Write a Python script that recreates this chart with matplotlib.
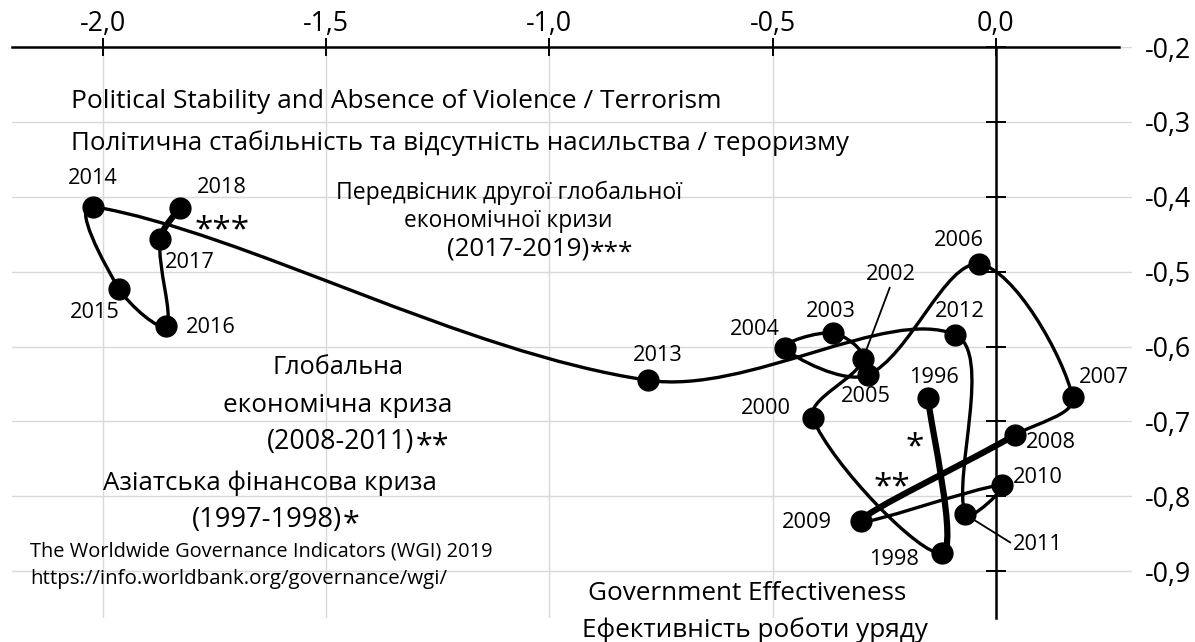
import numpy as np
import matplotlib.pyplot as plt
from matplotlib.path import Path
from matplotlib.patches import PathPatch

plt.rcParams['font.family'] = ['Open Sans', 'DejaVu Sans']

# WGI 2019: political stability (x) vs government effectiveness (y)
years = [1996, 1998, 2000, 2002, 2003, 2004, 2005, 2006, 2007, 2008, 2009,
         2010, 2011, 2012, 2013, 2014, 2015, 2016, 2017, 2018]
stability = [-0.152, -0.121, -0.410, -0.298, -0.365, -0.473, -0.287, -0.038, 0.172, 0.043, -0.302,
             0.013, -0.069, -0.092, -0.780, -2.022, -1.964, -1.859, -1.872, -1.828]
effectiveness = [-0.669, -0.876, -0.696, -0.617, -0.582, -0.602, -0.638, -0.490, -0.668, -0.718, -0.833,
                 -0.785, -0.824, -0.584, -0.645, -0.413, -0.523, -0.572, -0.457, -0.415]

# label offsets from the point, pixels (y up)
label_off = {1996: (6, 21), 1998: (-48, -6), 2000: (-47, 10), 2002: (28, 85), 2003: (-2, 22),
             2004: (-30, 19), 2005: (-2, -22), 2006: (-20, 24), 2007: (31, 20), 2008: (36, -8),
             2009: (-54, -1), 2010: (36, 8), 2011: (73, -30), 2012: (5, 23), 2013: (10, 25),
             2014: (0, 28), 2015: (-24, -24), 2016: (45, -2), 2017: (30, -23), 2018: (42, 21)}
leader = {2002: (0.5, 0.0), 2011: (0.0, 0.5)}

crisis_start = [1996, 2008, 2017]          # thick segment starts here
stars = {1996: ('*', (-13, -50)), 2009: ('**', (31, 33)), 2018: ('***', (42, -23))}

xticks = [-2.0, -1.5, -1.0, -0.5, 0.0]
yticks = [-0.9, -0.8, -0.7, -0.6, -0.5, -0.4, -0.3, -0.2]

W, H = 1195, 642
XPX, YPX = 446.5, 749.0   # pixels per unit on each axis


def fxy(px, py):
    return px / W, 1 - py / H


def comma(v):
    return f'{v:.1f}'.replace('.', ',')


def bezier(xs, ys):
    '''smoothed line, control points weighted by chord length'''
    p = np.column_stack([xs, ys])
    n = len(p)

    def d(a, b):
        return np.hypot((a[0] - b[0]) * XPX, (a[1] - b[1]) * YPX)

    segs = []
    for i in range(n - 1):
        p0, p1, p2, p3 = p[max(i - 1, 0)], p[i], p[i + 1], p[min(i + 2, n - 1)]
        d01, d12, d23 = d(p0, p1), d(p1, p2), d(p2, p3)
        k1 = d12 / (3 * (d01 + d12)) if d01 > 0 else 1 / 6
        k2 = d12 / (3 * (d12 + d23)) if d23 > 0 else 1 / 6
        segs.append([p1, p1 + (p2 - p0) * k1, p2 - (p3 - p1) * k2, p2])
    return segs


fig = plt.figure(figsize=(W / 100, H / 100), dpi=100)
rend = fig.canvas.get_renderer()


def fit(t, width):
    w = t.get_window_extent(rend).width
    t.set_fontsize(t.get_fontsize() * width / w)
    return t


def fitted_size(s, width, fs=15):
    t = fig.text(0, 0, s, fontsize=fs)
    fs = fs * width / t.get_window_extent(rend).width
    t.remove()
    return fs


ax = fig.add_axes([11.5 / W, 1 - 618 / H, (1132 - 11.5) / W, (618 - 47) / H])
ax.set_xlim(-2.205, 0.305)
ax.set_ylim(-0.9625, -0.2)

for s in ['bottom', 'right']:
    ax.spines[s].set_visible(False)
ax.spines['top'].set_bounds(-2.205, 0.275)
ax.spines['top'].set_linewidth(1.8)
ax.spines['left'].set_position(('data', 0))
ax.spines['left'].set_linewidth(1.8)

tick_fs = fitted_size('-0,3', 46)
ax.xaxis.set_ticks_position('top')
ax.set_xticks(xticks)
ax.set_xticklabels([comma(v) for v in xticks])
ax.set_yticks(yticks)
ax.set_yticklabels([comma(v) for v in yticks])
ax.tick_params(axis='x', direction='inout', length=13, width=1.4, labelsize=tick_fs, pad=0)
ax.tick_params(axis='y', left=True, right=False, labelleft=False, labelright=True,
               direction='inout', length=14, width=1.4, labelsize=tick_fs, pad=2)
ax.grid(True, color='#d9d9d9', lw=1.0)
ax.set_axisbelow(True)

segs = bezier(stability, effectiveness)
verts, codes = [], []
for k, sg in enumerate(segs):
    if k == 0:
        verts.append(sg[0]); codes.append(Path.MOVETO)
    verts += sg[1:]; codes += [Path.CURVE4] * 3
ax.add_patch(PathPatch(Path(verts, codes), fill=False, lw=2.4, ec='k', zorder=3, capstyle='round'))
for y0 in crisis_start:
    sg = segs[years.index(y0)]
    ax.add_patch(PathPatch(Path(sg, [Path.MOVETO] + [Path.CURVE4] * 3), fill=False, lw=4.5,
                           ec='k', zorder=3, capstyle='round'))

ax.plot(stability, effectiveness, 'o', color='k', ms=15, zorder=4)

year_fs = fitted_size('2014', 50)
for yr, xv, yv in zip(years, stability, effectiveness):
    dx, dy = label_off[yr]
    kw = {}
    if yr in leader:
        kw['arrowprops'] = dict(arrowstyle='-', lw=1.3, color='k', shrinkA=0, shrinkB=0,
                                relpos=leader[yr])
    ax.annotate(str(yr), (xv, yv), xytext=(dx, dy), textcoords='offset pixels',
                ha='center', va='center', fontsize=year_fs, zorder=5, **kw)
    if yr in stars:
        s, (sx, sy) = stars[yr]
        ax.annotate(s, (xv, yv), xytext=(sx, sy), textcoords='offset pixels',
                    ha='center', va='center', fontsize=24, zorder=5)

# texts: (x, y, text, width, align)
texts = [
    (71, 101, 'Political Stability and Absence of Violence / Terrorism', 652, 'left'),
    (71, 143, 'Політична стабільність та відсутність насильства / тероризму', 777, 'left'),
    (509, 193, 'Передвісник другої глобальної', 345, 'center'),
    (508, 221, 'економічної кризи', 208, 'center'),
    (518, 249, '(2017-2019)', 143, 'center'),
    (338, 368, 'Глобальна', 131, 'center'),
    (338, 405, 'економічна криза', 229, 'center'),
    (341, 442, '(2008-2011)', 147, 'center'),
    (270, 483, 'Азіатська фінансова криза', 334, 'center'),
    (267, 520, '(1997-1998)', 151, 'center'),
    (30, 552, 'The Worldwide Governance Indicators (WGI) 2019', 462, 'left'),
    (30, 579, 'https://info.worldbank.org/governance/wgi/', 417, 'left'),
]
made = {}
for x, y, s, w, ha in texts:
    made[s] = fit(fig.text(*fxy(x, y), s, fontsize=16, ha=ha, va='center'), w)

bot_fs = made['економічна криза'].get_fontsize()
fig.text(*fxy(906, 593), 'Government Effectiveness', fontsize=bot_fs, ha='right', va='center')
fig.text(*fxy(928, 630), 'Ефективність роботи уряду', fontsize=bot_fs, ha='right', va='center')

for key, s, fs in [('(2017-2019)', '***', 19), ('(2008-2011)', '**', 22), ('(1997-1998)', '*', 22)]:
    fig.add_artist(plt.Annotation(s, xy=(1, 0.5), xycoords=made[key], xytext=(1, -4),
                                  textcoords='offset pixels', ha='left', va='center', fontsize=fs))

fig.savefig('out.png', dpi=100)
